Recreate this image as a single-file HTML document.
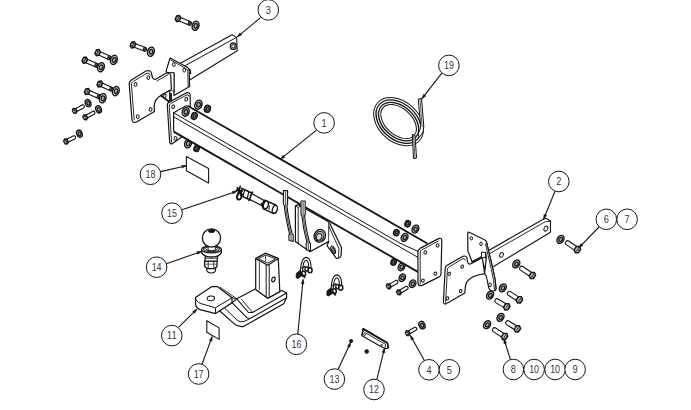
<!DOCTYPE html>
<html><head><meta charset="utf-8"><title>Towbar exploded view</title>
<style>
html,body{margin:0;padding:0;background:#fff}
svg{display:block}
.t{font-family:"Liberation Sans",sans-serif;font-size:10.2px;fill:#2f3550}
</style></head><body>
<svg width="691" height="410" viewBox="0 0 691 410">
<rect width="691" height="410" fill="#fff"/>
<polygon points="180,63.4 232,34.7 236.6,37.4 237.2,50.8 186,82.3" fill="#fff" stroke="#141414" stroke-width="1.1" stroke-linejoin="round"/>
<line x1="184.5" y1="66" x2="236.5" y2="37.4" stroke="#141414" stroke-width="1"/>
<ellipse cx="233.2" cy="46.2" rx="2.9" ry="3.3" fill="#bbb" stroke="#141414" stroke-width="1.2"/>
<ellipse cx="233.2" cy="46.2" rx="1.5" ry="1.8" fill="#eee" stroke="#141414" stroke-width="0.8"/>
<path d="M129.2,84 Q129.2,82 131,80.2 L146,71 Q150.8,69.6 151.6,73.6 L152,76 Q153,80.6 156.5,78.8 L167.2,72.6 L171,72.6 L171.5,89.6 L160.8,95.4 Q154.5,99 154.2,106 L154.4,111.5 L136.5,122 Q132.5,123.5 132,120 Z" fill="#fff" stroke="#141414" stroke-width="1.2" stroke-linejoin="round" stroke-linecap="round"/>
<path d="M131.4,84.5 L134.2,119.6 M131.4,84.5 Q131.4,82.6 133,81.6 L147,73.2 Q149.8,72.6 150.2,75" fill="none" stroke="#141414" stroke-width="0.9" stroke-linejoin="round" stroke-linecap="round"/>
<ellipse cx="135.6" cy="84.4" rx="1.4" ry="1.8" fill="#fff" stroke="#141414" stroke-width="1" transform="rotate(15 135.6 84.4)"/>
<ellipse cx="148.4" cy="77.6" rx="1.4" ry="1.8" fill="#fff" stroke="#141414" stroke-width="1" transform="rotate(15 148.4 77.6)"/>
<ellipse cx="137.8" cy="116.6" rx="1.4" ry="1.8" fill="#fff" stroke="#141414" stroke-width="1" transform="rotate(15 137.8 116.6)"/>
<ellipse cx="150.6" cy="109.4" rx="1.4" ry="1.8" fill="#fff" stroke="#141414" stroke-width="1" transform="rotate(15 150.6 109.4)"/>
<polygon points="160.8,95.5 169.8,90.6 169.8,102.2" fill="#fff" stroke="#141414" stroke-width="1.1" stroke-linejoin="round"/>
<line x1="160.8" y1="95.5" x2="169.8" y2="102.2" stroke="#141414" stroke-width="1.6"/>
<ellipse cx="164.9" cy="95.8" rx="1.3" ry="1.6" fill="#fff" stroke="#141414" stroke-width="1" transform="rotate(10 164.9 95.8)"/>
<polygon points="169.6,93.6 171.6,93.6 171.6,102.4 169.6,102.4" fill="#333" stroke="#141414" stroke-width="1" stroke-linejoin="round"/>
<path d="M170.1,57.9 L187.6,67.6 Q189.2,68.6 189.2,70.5 L189.6,86.4 L174,95.4 L174,72.8 L167.2,72.6 L166,71.4 Z" fill="#fff" stroke="#141414" stroke-width="1.2" stroke-linejoin="round" stroke-linecap="round"/>
<path d="M170.8,60 L186.6,69 Q187.8,69.8 187.8,71.4 L188.2,86.6" fill="none" stroke="#141414" stroke-width="0.9" stroke-linejoin="round" stroke-linecap="round"/>
<polygon points="167.2,72.6 174,72.8 174,92.4 171.4,89.6 170.8,74.4" fill="#fff" stroke="#141414" stroke-width="1" stroke-linejoin="round"/>
<line x1="156.6" y1="81.2" x2="168.6" y2="74.2" stroke="#141414" stroke-width="0.9"/>
<ellipse cx="173.8" cy="64.6" rx="1.4" ry="1.9" fill="#fff" stroke="#141414" stroke-width="1"/>
<ellipse cx="184.2" cy="70.2" rx="1.4" ry="1.9" fill="#fff" stroke="#141414" stroke-width="1"/>
<line x1="189.2" y1="69" x2="190.6" y2="71" stroke="#141414" stroke-width="1.5"/>
<line x1="190.6" y1="71" x2="190.6" y2="74" stroke="#141414" stroke-width="1.2"/>
<ellipse cx="198.4" cy="104.7" rx="3.5" ry="4.6" fill="#d0d0d0" stroke="#141414" stroke-width="1.4" transform="rotate(22 198.4 104.7)"/>
<ellipse cx="198.6" cy="104.8" rx="1.82" ry="2.39" fill="#a8a8a8" stroke="#141414" stroke-width="1.2" transform="rotate(22 198.6 104.8)"/>
<ellipse cx="207.4" cy="108.8" rx="2.89" ry="3.4" fill="#777" stroke="#141414" stroke-width="1.6" transform="rotate(18 207.4 108.8)"/>
<ellipse cx="207.4" cy="108.8" rx="1.02" ry="1.36" fill="#bbb" stroke="#141414" stroke-width="1" transform="rotate(18 207.4 108.8)"/>
<ellipse cx="188" cy="143.6" rx="3.3" ry="4.4" fill="#d0d0d0" stroke="#141414" stroke-width="1.4" transform="rotate(20 188 143.6)"/>
<ellipse cx="188.2" cy="143.7" rx="1.72" ry="2.29" fill="#a8a8a8" stroke="#141414" stroke-width="1.2" transform="rotate(20 188.2 143.7)"/>
<ellipse cx="196.6" cy="148.5" rx="2.55" ry="3" fill="#777" stroke="#141414" stroke-width="1.6" transform="rotate(18 196.6 148.5)"/>
<ellipse cx="196.6" cy="148.5" rx="0.9" ry="1.2" fill="#bbb" stroke="#141414" stroke-width="1" transform="rotate(18 196.6 148.5)"/>
<path d="M167.3,105 Q167.3,103.2 168.8,102.4 L186.6,92.8 Q189.8,92 190.2,95 L190.4,131 L172.4,143.6 Q170,144.4 169.7,142.2 Z" fill="#fff" stroke="#141414" stroke-width="1.2" stroke-linejoin="round" stroke-linecap="round"/>
<path d="M169.3,105.6 Q169.3,104.3 170.4,103.7 L187,94.8 Q188.6,94.4 188.8,96" fill="none" stroke="#141414" stroke-width="0.9" stroke-linejoin="round" stroke-linecap="round"/>
<line x1="169.3" y1="105.6" x2="171.6" y2="142.6" stroke="#141414" stroke-width="0.9"/>
<ellipse cx="173.2" cy="106.8" rx="1.4" ry="1.8" fill="#fff" stroke="#141414" stroke-width="1" transform="rotate(15 173.2 106.8)"/>
<ellipse cx="186.2" cy="99.2" rx="1.4" ry="1.8" fill="#fff" stroke="#141414" stroke-width="1" transform="rotate(15 186.2 99.2)"/>
<ellipse cx="175.5" cy="138.4" rx="1.4" ry="1.8" fill="#fff" stroke="#141414" stroke-width="1" transform="rotate(15 175.5 138.4)"/>
<ellipse cx="393.6" cy="262.2" rx="2.55" ry="3" fill="#777" stroke="#141414" stroke-width="1.6" transform="rotate(18 393.6 262.2)"/>
<ellipse cx="393.6" cy="262.2" rx="0.9" ry="1.2" fill="#bbb" stroke="#141414" stroke-width="1" transform="rotate(18 393.6 262.2)"/>
<ellipse cx="401.5" cy="266.8" rx="3.1" ry="4.2" fill="#d0d0d0" stroke="#141414" stroke-width="1.4" transform="rotate(30 401.5 266.8)"/>
<ellipse cx="401.7" cy="266.9" rx="1.61" ry="2.18" fill="#a8a8a8" stroke="#141414" stroke-width="1.2" transform="rotate(30 401.7 266.9)"/>
<polygon points="173.6,112.8 186,106 188,106 427.4,243.5 419.4,252 418.3,272.1 173.6,131.6" fill="#fff" stroke="#fff" stroke-width="0.01" stroke-linejoin="round"/>
<line x1="173.6" y1="112.8" x2="173.6" y2="131.6" stroke="#141414" stroke-width="1.2"/>
<path d="M173.6,112.8 L184.8,106.4 Q186.6,105.4 188.4,106.2" fill="none" stroke="#141414" stroke-width="1.1" stroke-linejoin="round" stroke-linecap="round"/>
<line x1="188" y1="106" x2="427.4" y2="243.5" stroke="#141414" stroke-width="1.8"/>
<path d="M173.6,112.8 L400,243.2 L419.4,252" fill="none" stroke="#141414" stroke-width="1" stroke-linejoin="round" stroke-linecap="round"/>
<line x1="173.6" y1="116.8" x2="419.4" y2="258.2" stroke="#141414" stroke-width="1"/>
<line x1="173.6" y1="131.6" x2="418.3" y2="272.1" stroke="#141414" stroke-width="1.8"/>
<ellipse cx="185.7" cy="111.9" rx="3.4" ry="4.4" fill="#d0d0d0" stroke="#141414" stroke-width="1.4" transform="rotate(22 185.7 111.9)"/>
<ellipse cx="185.9" cy="112" rx="1.77" ry="2.29" fill="#a8a8a8" stroke="#141414" stroke-width="1.2" transform="rotate(22 185.9 112)"/>
<ellipse cx="194.3" cy="116" rx="2.8" ry="3.3" fill="#777" stroke="#141414" stroke-width="1.6" transform="rotate(18 194.3 116)"/>
<ellipse cx="194.3" cy="116" rx="0.99" ry="1.32" fill="#bbb" stroke="#141414" stroke-width="1" transform="rotate(18 194.3 116)"/>
<path d="M177.29,20.21 L189.48,25.27 Q190.82,25.42 191.39,24.05 Q191.96,22.69 190.9,21.85 L178.71,16.79 Z" fill="#fff" stroke="#141414" stroke-width="1.1" stroke-linejoin="round" stroke-linecap="round"/>
<polygon points="187.64,24.5 189.48,25.27 190.9,21.85 189.05,21.08" fill="#555" stroke="#141414" stroke-width="1" stroke-linejoin="round"/>
<polygon points="175.25,19.38 176.7,21.64 179.32,21.07 180.75,17.62 179.3,15.36 176.68,15.93" fill="#999" stroke="#141414" stroke-width="1.5" stroke-linejoin="round"/>
<line x1="176.96" y1="21.01" x2="179.04" y2="15.99" stroke="#333" stroke-width="0.8"/>
<ellipse cx="177.17" cy="18.16" rx="1.1" ry="1.1" fill="#eee" stroke="#141414" stroke-width="0.7"/>
<ellipse cx="195.6" cy="25.8" rx="3.3" ry="4.7" fill="#d0d0d0" stroke="#141414" stroke-width="1.4" transform="rotate(18 195.6 25.8)"/>
<ellipse cx="195.8" cy="25.9" rx="1.72" ry="2.44" fill="#a8a8a8" stroke="#141414" stroke-width="1.2" transform="rotate(18 195.8 25.9)"/>
<path d="M132.33,46.53 L144.65,51.27 Q145.99,51.39 146.52,50.01 Q147.06,48.63 145.98,47.82 L133.67,43.07 Z" fill="#fff" stroke="#141414" stroke-width="1.1" stroke-linejoin="round" stroke-linecap="round"/>
<polygon points="142.79,50.55 144.65,51.27 145.98,47.82 144.12,47.1" fill="#555" stroke="#141414" stroke-width="1" stroke-linejoin="round"/>
<polygon points="130.27,45.75 131.78,47.97 134.38,47.34 135.73,43.85 134.22,41.63 131.62,42.26" fill="#999" stroke="#141414" stroke-width="1.5" stroke-linejoin="round"/>
<line x1="132.02" y1="47.34" x2="133.98" y2="42.26" stroke="#333" stroke-width="0.8"/>
<ellipse cx="132.16" cy="44.48" rx="1.1" ry="1.1" fill="#eee" stroke="#141414" stroke-width="0.7"/>
<ellipse cx="150.9" cy="51.7" rx="3.3" ry="4.7" fill="#d0d0d0" stroke="#141414" stroke-width="1.4" transform="rotate(18 150.9 51.7)"/>
<ellipse cx="151.1" cy="51.8" rx="1.72" ry="2.44" fill="#a8a8a8" stroke="#141414" stroke-width="1.2" transform="rotate(18 151.1 51.8)"/>
<path d="M96.94,54.29 L108.97,59.71 Q110.31,59.9 110.92,58.56 Q111.52,57.21 110.49,56.34 L98.46,50.91 Z" fill="#fff" stroke="#141414" stroke-width="1.1" stroke-linejoin="round" stroke-linecap="round"/>
<polygon points="107.15,58.89 108.97,59.71 110.49,56.34 108.67,55.51" fill="#555" stroke="#141414" stroke-width="1" stroke-linejoin="round"/>
<polygon points="94.93,53.4 96.3,55.7 98.94,55.21 100.47,51.8 99.1,49.5 96.46,49.99" fill="#999" stroke="#141414" stroke-width="1.5" stroke-linejoin="round"/>
<line x1="96.58" y1="55.08" x2="98.82" y2="50.12" stroke="#333" stroke-width="0.8"/>
<ellipse cx="96.88" cy="52.23" rx="1.1" ry="1.1" fill="#eee" stroke="#141414" stroke-width="0.7"/>
<ellipse cx="113.9" cy="59.9" rx="3.3" ry="4.7" fill="#d0d0d0" stroke="#141414" stroke-width="1.4" transform="rotate(18 113.9 59.9)"/>
<ellipse cx="114.1" cy="60" rx="1.72" ry="2.44" fill="#a8a8a8" stroke="#141414" stroke-width="1.2" transform="rotate(18 114.1 60)"/>
<path d="M84.06,61.9 L96.17,67.16 Q97.5,67.34 98.09,65.98 Q98.68,64.62 97.64,63.77 L85.54,58.5 Z" fill="#fff" stroke="#141414" stroke-width="1.1" stroke-linejoin="round" stroke-linecap="round"/>
<polygon points="94.33,66.36 96.17,67.16 97.64,63.77 95.81,62.97" fill="#555" stroke="#141414" stroke-width="1" stroke-linejoin="round"/>
<polygon points="82.04,61.04 83.44,63.32 86.07,62.79 87.56,59.36 86.16,57.08 83.53,57.61" fill="#999" stroke="#141414" stroke-width="1.5" stroke-linejoin="round"/>
<line x1="83.72" y1="62.69" x2="85.88" y2="57.71" stroke="#333" stroke-width="0.8"/>
<ellipse cx="83.97" cy="59.84" rx="1.1" ry="1.1" fill="#eee" stroke="#141414" stroke-width="0.7"/>
<ellipse cx="100.9" cy="67.2" rx="3.3" ry="4.7" fill="#d0d0d0" stroke="#141414" stroke-width="1.4" transform="rotate(18 100.9 67.2)"/>
<ellipse cx="101.1" cy="67.3" rx="1.72" ry="2.44" fill="#a8a8a8" stroke="#141414" stroke-width="1.2" transform="rotate(18 101.1 67.3)"/>
<path d="M99.05,85.69 L111.12,91.05 Q112.45,91.23 113.05,89.88 Q113.65,88.53 112.62,87.66 L100.55,82.31 Z" fill="#fff" stroke="#141414" stroke-width="1.1" stroke-linejoin="round" stroke-linecap="round"/>
<polygon points="109.29,90.23 111.12,91.05 112.62,87.66 110.79,86.85" fill="#555" stroke="#141414" stroke-width="1" stroke-linejoin="round"/>
<polygon points="97.03,84.82 98.42,87.11 101.05,86.6 102.57,83.18 101.18,80.89 98.55,81.4" fill="#999" stroke="#141414" stroke-width="1.5" stroke-linejoin="round"/>
<line x1="98.7" y1="86.49" x2="100.9" y2="81.51" stroke="#333" stroke-width="0.8"/>
<ellipse cx="98.98" cy="83.63" rx="1.1" ry="1.1" fill="#eee" stroke="#141414" stroke-width="0.7"/>
<ellipse cx="115.8" cy="91.1" rx="3.3" ry="4.7" fill="#d0d0d0" stroke="#141414" stroke-width="1.4" transform="rotate(18 115.8 91.1)"/>
<ellipse cx="116" cy="91.2" rx="1.72" ry="2.44" fill="#a8a8a8" stroke="#141414" stroke-width="1.2" transform="rotate(18 116 91.2)"/>
<path d="M86.37,93.2 L98.48,98.44 Q99.82,98.61 100.41,97.25 Q100.99,95.89 99.95,95.04 L87.83,89.8 Z" fill="#fff" stroke="#141414" stroke-width="1.1" stroke-linejoin="round" stroke-linecap="round"/>
<polygon points="96.65,97.64 98.48,98.44 99.95,95.04 98.11,94.25" fill="#555" stroke="#141414" stroke-width="1" stroke-linejoin="round"/>
<polygon points="84.34,92.34 85.75,94.62 88.38,94.09 89.86,90.66 88.45,88.38 85.82,88.91" fill="#999" stroke="#141414" stroke-width="1.5" stroke-linejoin="round"/>
<line x1="86.02" y1="94" x2="88.18" y2="89" stroke="#333" stroke-width="0.8"/>
<ellipse cx="86.27" cy="91.14" rx="1.1" ry="1.1" fill="#eee" stroke="#141414" stroke-width="0.7"/>
<ellipse cx="102.6" cy="98.2" rx="3.3" ry="4.7" fill="#d0d0d0" stroke="#141414" stroke-width="1.4" transform="rotate(18 102.6 98.2)"/>
<ellipse cx="102.8" cy="98.3" rx="1.72" ry="2.44" fill="#a8a8a8" stroke="#141414" stroke-width="1.2" transform="rotate(18 102.8 98.3)"/>
<path d="M75.45,112.21 L83.99,107.68 Q84.83,106.87 84.23,105.74 Q83.63,104.61 82.49,104.85 L73.95,109.39 Z" fill="#fff" stroke="#141414" stroke-width="1.1" stroke-linejoin="round" stroke-linecap="round"/>
<polygon points="73.81,112.96 75.97,113.18 76.99,111.27 75.59,108.64 73.43,108.42 72.41,110.33" fill="#999" stroke="#141414" stroke-width="1.5" stroke-linejoin="round"/>
<line x1="75.71" y1="112.71" x2="73.69" y2="108.89" stroke="#333" stroke-width="0.8"/>
<ellipse cx="73.91" cy="111.22" rx="1.1" ry="1.1" fill="#eee" stroke="#141414" stroke-width="0.7"/>
<ellipse cx="88.1" cy="103.2" rx="2.7" ry="3.7" fill="#d0d0d0" stroke="#141414" stroke-width="1.4" transform="rotate(-20 88.1 103.2)"/>
<ellipse cx="88.3" cy="103.3" rx="1.4" ry="1.92" fill="#a8a8a8" stroke="#141414" stroke-width="1.2" transform="rotate(-20 88.3 103.3)"/>
<path d="M85.97,118.7 L94.52,113.98 Q95.35,113.16 94.73,112.04 Q94.11,110.92 92.98,111.18 L84.43,115.9 Z" fill="#fff" stroke="#141414" stroke-width="1.1" stroke-linejoin="round" stroke-linecap="round"/>
<polygon points="84.34,119.47 86.5,119.66 87.49,117.73 86.06,115.13 83.9,114.94 82.91,116.87" fill="#999" stroke="#141414" stroke-width="1.5" stroke-linejoin="round"/>
<line x1="86.24" y1="119.19" x2="84.16" y2="115.41" stroke="#333" stroke-width="0.8"/>
<ellipse cx="84.41" cy="117.73" rx="1.1" ry="1.1" fill="#eee" stroke="#141414" stroke-width="0.7"/>
<ellipse cx="98.6" cy="109.3" rx="2.7" ry="3.7" fill="#d0d0d0" stroke="#141414" stroke-width="1.4" transform="rotate(-20 98.6 109.3)"/>
<ellipse cx="98.8" cy="109.4" rx="1.4" ry="1.92" fill="#a8a8a8" stroke="#141414" stroke-width="1.2" transform="rotate(-20 98.8 109.4)"/>
<path d="M66.72,142.93 L75.15,138.67 Q76.01,137.88 75.43,136.74 Q74.85,135.59 73.71,135.81 L65.28,140.07 Z" fill="#fff" stroke="#141414" stroke-width="1.1" stroke-linejoin="round" stroke-linecap="round"/>
<polygon points="65.06,143.64 67.22,143.91 68.28,142.01 66.94,139.36 64.78,139.09 63.72,140.99" fill="#999" stroke="#141414" stroke-width="1.5" stroke-linejoin="round"/>
<line x1="66.97" y1="143.43" x2="65.03" y2="139.57" stroke="#333" stroke-width="0.8"/>
<ellipse cx="65.2" cy="141.91" rx="1.1" ry="1.1" fill="#eee" stroke="#141414" stroke-width="0.7"/>
<ellipse cx="79.4" cy="133.6" rx="2.7" ry="3.7" fill="#d0d0d0" stroke="#141414" stroke-width="1.4" transform="rotate(-20 79.4 133.6)"/>
<ellipse cx="79.6" cy="133.7" rx="1.4" ry="1.92" fill="#a8a8a8" stroke="#141414" stroke-width="1.2" transform="rotate(-20 79.6 133.7)"/>
<path d="M283.4,190.6 L287.6,190.6 L287.6,204.6 L286.9,205.1 Q288.2,218.6 292.3,234.3 L293.2,234.8 L293.2,241.4 L289,240.2 L288.8,234.8 L289.7,234.3 Q285.6,218.6 284.2,205.1 L283.4,204.6 Z" fill="#fff" stroke="#141414" stroke-width="1.1" stroke-linejoin="round" stroke-linecap="round"/>
<path d="M285.5,191.6 L285.5,204.6 Q286.8,218.6 291,234.8 L291.1,240.8" fill="none" stroke="#666" stroke-width="1.3" stroke-linejoin="round" stroke-linecap="round"/>
<polygon points="295.4,206 298,204.6 300.6,206 328.9,221.9 328.9,241.4 310,251.7 295.4,241.4" fill="#fff" stroke="#141414" stroke-width="1.2" stroke-linejoin="round"/>
<line x1="298.2" y1="207.4" x2="298.2" y2="243.4" stroke="#141414" stroke-width="0.9"/>
<line x1="295.4" y1="206" x2="298.2" y2="207.4" stroke="#141414" stroke-width="0.9"/>
<line x1="298.2" y1="207.4" x2="300.6" y2="206" stroke="#141414" stroke-width="0.9"/>
<ellipse cx="319.8" cy="235.8" rx="5.6" ry="6.5" fill="#fff" stroke="#141414" stroke-width="1.3" transform="rotate(22 319.8 235.8)"/>
<ellipse cx="319.6" cy="236.2" rx="4.2" ry="5" fill="#bbb" stroke="#141414" stroke-width="1.0" transform="rotate(22 319.6 236.2)"/>
<ellipse cx="319.2" cy="236.8" rx="2.6" ry="3.3" fill="#ddd" stroke="#141414" stroke-width="0.9" transform="rotate(22 319.2 236.8)"/>
<path d="M301,201 L305.2,201 L305.2,215 L304.5,215.5 Q305.8,229 309.6,242.8 L310.5,243.3 L310.5,250.9 L306.3,249.7 L306.1,243.3 L307,242.8 Q303.2,229 301.8,215.5 L301,215 Z" fill="#fff" stroke="#141414" stroke-width="1.1" stroke-linejoin="round" stroke-linecap="round"/>
<path d="M303.1,202 L303.1,215 Q304.4,229 308.3,243.3 L308.4,250.3" fill="none" stroke="#666" stroke-width="1.3" stroke-linejoin="round" stroke-linecap="round"/>
<path d="M329.8,223.5 L341,246.6 Q341.6,247.8 341.4,249.5 L341.2,255 Q340.4,258.8 336.4,258.3 L327,245.6 L328.9,241.4" fill="#fff" stroke="#141414" stroke-width="1.2" stroke-linejoin="round" stroke-linecap="round"/>
<path d="M329,226.6 L338.8,248.4 L338.6,257.6" fill="none" stroke="#141414" stroke-width="0.9" stroke-linejoin="round" stroke-linecap="round"/>
<ellipse cx="333.2" cy="249.8" rx="1.8" ry="4" fill="#fff" stroke="#141414" stroke-width="1.1" transform="rotate(-24 333.2 249.8)"/>
<ellipse cx="333.4" cy="250" rx="0.8" ry="2.8" fill="#ccc" stroke="#141414" stroke-width="0.8" transform="rotate(-24 333.4 250)"/>
<ellipse cx="407.7" cy="223.7" rx="2.63" ry="3.1" fill="#777" stroke="#141414" stroke-width="1.6" transform="rotate(18 407.7 223.7)"/>
<ellipse cx="407.7" cy="223.7" rx="0.93" ry="1.24" fill="#bbb" stroke="#141414" stroke-width="1" transform="rotate(18 407.7 223.7)"/>
<ellipse cx="415.4" cy="229.1" rx="3.1" ry="4.2" fill="#d0d0d0" stroke="#141414" stroke-width="1.4" transform="rotate(30 415.4 229.1)"/>
<ellipse cx="415.6" cy="229.2" rx="1.61" ry="2.18" fill="#a8a8a8" stroke="#141414" stroke-width="1.2" transform="rotate(30 415.6 229.2)"/>
<ellipse cx="396.3" cy="232.6" rx="2.63" ry="3.1" fill="#777" stroke="#141414" stroke-width="1.6" transform="rotate(18 396.3 232.6)"/>
<ellipse cx="396.3" cy="232.6" rx="0.93" ry="1.24" fill="#bbb" stroke="#141414" stroke-width="1" transform="rotate(18 396.3 232.6)"/>
<ellipse cx="404.6" cy="237.4" rx="3.1" ry="4.2" fill="#d0d0d0" stroke="#141414" stroke-width="1.4" transform="rotate(30 404.6 237.4)"/>
<ellipse cx="404.8" cy="237.5" rx="1.61" ry="2.18" fill="#a8a8a8" stroke="#141414" stroke-width="1.2" transform="rotate(30 404.8 237.5)"/>
<path d="M417.9,252 Q417.9,249.6 420,248.4 L438.5,238.6 Q441.6,237.6 441.8,240.5 L441,274 Q441,275.8 439.6,276.6 L421.5,285.6 Q418.2,286.2 418,283.5 Z" fill="#fff" stroke="#141414" stroke-width="1.2" stroke-linejoin="round" stroke-linecap="round"/>
<path d="M420.2,252.6 Q420.2,250.8 421.6,250 L438.4,241" fill="none" stroke="#141414" stroke-width="0.9" stroke-linejoin="round" stroke-linecap="round"/>
<line x1="420.2" y1="252.6" x2="420.2" y2="284.5" stroke="#141414" stroke-width="0.9"/>
<ellipse cx="425.3" cy="252.4" rx="1.4" ry="1.7" fill="#fff" stroke="#141414" stroke-width="1" transform="rotate(15 425.3 252.4)"/>
<ellipse cx="437.6" cy="245.4" rx="1.4" ry="1.7" fill="#fff" stroke="#141414" stroke-width="1" transform="rotate(15 437.6 245.4)"/>
<ellipse cx="435.4" cy="273.6" rx="1.4" ry="1.7" fill="#fff" stroke="#141414" stroke-width="1" transform="rotate(15 435.4 273.6)"/>
<ellipse cx="422.9" cy="280.6" rx="1.4" ry="1.7" fill="#fff" stroke="#141414" stroke-width="1" transform="rotate(15 422.9 280.6)"/>
<ellipse cx="402.3" cy="277.7" rx="3" ry="4" fill="#d0d0d0" stroke="#141414" stroke-width="1.4" transform="rotate(30 402.3 277.7)"/>
<ellipse cx="402.5" cy="277.8" rx="1.56" ry="2.08" fill="#a8a8a8" stroke="#141414" stroke-width="1.2" transform="rotate(30 402.5 277.8)"/>
<ellipse cx="412.6" cy="283.7" rx="3" ry="4" fill="#d0d0d0" stroke="#141414" stroke-width="1.4" transform="rotate(30 412.6 283.7)"/>
<ellipse cx="412.8" cy="283.8" rx="1.56" ry="2.08" fill="#a8a8a8" stroke="#141414" stroke-width="1.2" transform="rotate(30 412.8 283.8)"/>
<path d="M389.48,287.7 L397.54,283.18 Q398.36,282.36 397.73,281.24 Q397.1,280.12 395.97,280.39 L387.92,284.9 Z" fill="#fff" stroke="#141414" stroke-width="1.1" stroke-linejoin="round" stroke-linecap="round"/>
<polygon points="387.86,288.48 390.02,288.66 391,286.72 389.54,284.12 387.38,283.94 386.4,285.88" fill="#999" stroke="#141414" stroke-width="1.5" stroke-linejoin="round"/>
<line x1="389.76" y1="288.18" x2="387.64" y2="284.42" stroke="#333" stroke-width="0.8"/>
<ellipse cx="387.91" cy="286.74" rx="1.1" ry="1.1" fill="#eee" stroke="#141414" stroke-width="0.7"/>
<path d="M399.71,293.78 L407.77,289.09 Q408.58,288.25 407.93,287.14 Q407.29,286.03 406.16,286.32 L398.09,291.02 Z" fill="#fff" stroke="#141414" stroke-width="1.1" stroke-linejoin="round" stroke-linecap="round"/>
<polygon points="398.09,294.59 400.26,294.73 401.2,292.78 399.71,290.21 397.54,290.07 396.6,292.02" fill="#999" stroke="#141414" stroke-width="1.5" stroke-linejoin="round"/>
<line x1="399.99" y1="294.27" x2="397.81" y2="290.53" stroke="#333" stroke-width="0.8"/>
<ellipse cx="398.12" cy="292.85" rx="1.1" ry="1.1" fill="#eee" stroke="#141414" stroke-width="0.7"/>
<path d="M480,255.4 L542.8,219.5 Q545.6,217.8 547.4,219 L550.5,221.2 L550.5,232.3 L486,271 Z" fill="#fff" stroke="#141414" stroke-width="1.1" stroke-linejoin="round" stroke-linecap="round"/>
<path d="M482,258 L544.5,222.1 Q546.4,221.2 548,221.6 L550.5,221.2" fill="none" stroke="#141414" stroke-width="0.9" stroke-linejoin="round" stroke-linecap="round"/>
<ellipse cx="545.9" cy="228.6" rx="1.8" ry="2.6" fill="#fff" stroke="#141414" stroke-width="1" transform="rotate(25 545.9 228.6)"/>
<ellipse cx="501.5" cy="254.9" rx="1.7" ry="2.4" fill="#fff" stroke="#141414" stroke-width="1" transform="rotate(25 501.5 254.9)"/>
<path d="M467.8,232.8 Q467.8,231.6 469,232.2 L484,239.5 Q486.4,240.6 486.8,243 C488.6,252 492,264 495.1,279.7 L496,288.6 L490,280 L485.7,256.6 L481.5,257.6 L472.1,262 L467.8,250.6 Z" fill="#fff" stroke="#141414" stroke-width="1.2" stroke-linejoin="round" stroke-linecap="round"/>
<ellipse cx="471.3" cy="238.3" rx="1.3" ry="1.7" fill="#fff" stroke="#141414" stroke-width="1"/>
<ellipse cx="481" cy="243.8" rx="1.3" ry="1.7" fill="#fff" stroke="#141414" stroke-width="1"/>
<path d="M445.2,268.4 Q445.2,266.6 446.8,265.6 L462.6,256.4 Q466.6,255 467,258.4 L467.4,261 Q468,265.4 471.4,263.4 L482.3,257.6 L484.6,273.6 Q466,276.6 465.4,286.6 L464.8,293 L446.6,303.6 Q443.6,304.6 443.4,302 Z" fill="#fff" stroke="#141414" stroke-width="1.2" stroke-linejoin="round" stroke-linecap="round"/>
<path d="M447.4,269.4 Q447.4,268 448.6,267.2 L463,258.6 Q464.8,258.2 465.2,260" fill="none" stroke="#141414" stroke-width="0.9" stroke-linejoin="round" stroke-linecap="round"/>
<line x1="447.4" y1="269.4" x2="445.6" y2="302.8" stroke="#141414" stroke-width="0.9"/>
<line x1="472.1" y1="261.4" x2="482.3" y2="255.9" stroke="#141414" stroke-width="0.9"/>
<ellipse cx="449.2" cy="273.8" rx="1.3" ry="1.6" fill="#fff" stroke="#141414" stroke-width="1" transform="rotate(15 449.2 273.8)"/>
<ellipse cx="462.2" cy="266.6" rx="1.3" ry="1.6" fill="#fff" stroke="#141414" stroke-width="1" transform="rotate(15 462.2 266.6)"/>
<ellipse cx="447.4" cy="298.4" rx="1.3" ry="1.6" fill="#fff" stroke="#141414" stroke-width="1" transform="rotate(15 447.4 298.4)"/>
<ellipse cx="460.6" cy="291" rx="1.3" ry="1.6" fill="#fff" stroke="#141414" stroke-width="1" transform="rotate(15 460.6 291)"/>
<polygon points="481.5,252.3 485.7,252.3 485.7,257 481.5,258" fill="#fff" stroke="#141414" stroke-width="1" stroke-linejoin="round"/>
<path d="M485.7,252.3 L486.3,257.5 L484.6,273.4 Q486.8,276 487.4,281 L488.4,286.6 Q489.2,290.4 492,290.9 L493.8,291 Q496.2,290.6 496,288.6 L495.1,279.7 C492,264 488.6,252 486.8,243" fill="#fff" stroke="#141414" stroke-width="1.2" stroke-linejoin="round" stroke-linecap="round"/>
<path d="M485.6,244 C487.4,253 490.6,265 493.6,280.6 L494.4,289.6" fill="none" stroke="#141414" stroke-width="0.9" stroke-linejoin="round" stroke-linecap="round"/>
<ellipse cx="490" cy="284.8" rx="1.4" ry="1.8" fill="#fff" stroke="#141414" stroke-width="1"/>
<ellipse cx="516.3" cy="263.9" rx="3.1" ry="4.3" fill="#d0d0d0" stroke="#141414" stroke-width="1.4" transform="rotate(35 516.3 263.9)"/>
<ellipse cx="516.5" cy="264" rx="1.61" ry="2.24" fill="#a8a8a8" stroke="#141414" stroke-width="1.2" transform="rotate(35 516.5 264)"/>
<path d="M533.59,273.71 L522.39,266.27 Q520.9,265.8 519.95,267.23 Q518.99,268.66 520.01,269.85 L531.21,277.29 Z" fill="#fff" stroke="#141414" stroke-width="1.1" stroke-linejoin="round" stroke-linecap="round"/>
<polygon points="535.61,275.19 534.45,272.42 531.44,272.42 529.19,275.81 530.35,278.58 533.36,278.58" fill="#d4d4d4" stroke="#141414" stroke-width="1.5" stroke-linejoin="round"/>
<line x1="534.04" y1="273.03" x2="530.76" y2="277.97" stroke="#333" stroke-width="0.8"/>
<ellipse cx="533.15" cy="276" rx="1.1" ry="1.1" fill="#eee" stroke="#141414" stroke-width="0.7"/>
<ellipse cx="502.8" cy="287.8" rx="3.1" ry="4.3" fill="#d0d0d0" stroke="#141414" stroke-width="1.4" transform="rotate(35 502.8 287.8)"/>
<ellipse cx="503" cy="287.9" rx="1.61" ry="2.24" fill="#a8a8a8" stroke="#141414" stroke-width="1.2" transform="rotate(35 503 287.9)"/>
<path d="M520.57,298.1 L510.18,291.35 Q508.68,290.89 507.74,292.33 Q506.81,293.78 507.84,294.96 L518.23,301.7 Z" fill="#fff" stroke="#141414" stroke-width="1.1" stroke-linejoin="round" stroke-linecap="round"/>
<polygon points="522.6,299.55 521.41,296.8 518.41,296.83 516.2,300.25 517.39,303 520.39,302.97" fill="#d4d4d4" stroke="#141414" stroke-width="1.5" stroke-linejoin="round"/>
<line x1="521.01" y1="297.42" x2="517.79" y2="302.38" stroke="#333" stroke-width="0.8"/>
<ellipse cx="520.15" cy="300.39" rx="1.1" ry="1.1" fill="#eee" stroke="#141414" stroke-width="0.7"/>
<ellipse cx="490.1" cy="295.2" rx="3.1" ry="4.3" fill="#d0d0d0" stroke="#141414" stroke-width="1.4" transform="rotate(35 490.1 295.2)"/>
<ellipse cx="490.3" cy="295.3" rx="1.61" ry="2.24" fill="#a8a8a8" stroke="#141414" stroke-width="1.2" transform="rotate(35 490.3 295.3)"/>
<path d="M507.91,304.96 L497.54,298.68 Q496.03,298.27 495.14,299.74 Q494.25,301.21 495.31,302.36 L505.69,308.64 Z" fill="#fff" stroke="#141414" stroke-width="1.1" stroke-linejoin="round" stroke-linecap="round"/>
<polygon points="509.99,306.35 508.72,303.63 505.71,303.76 503.61,307.25 504.88,309.97 507.89,309.84" fill="#d4d4d4" stroke="#141414" stroke-width="1.5" stroke-linejoin="round"/>
<line x1="508.33" y1="304.27" x2="505.27" y2="309.33" stroke="#333" stroke-width="0.8"/>
<ellipse cx="507.57" cy="307.27" rx="1.1" ry="1.1" fill="#eee" stroke="#141414" stroke-width="0.7"/>
<ellipse cx="500.5" cy="317.3" rx="3.1" ry="4.3" fill="#d0d0d0" stroke="#141414" stroke-width="1.4" transform="rotate(35 500.5 317.3)"/>
<ellipse cx="500.7" cy="317.4" rx="1.61" ry="2.24" fill="#a8a8a8" stroke="#141414" stroke-width="1.2" transform="rotate(35 500.7 317.4)"/>
<path d="M518.55,327.08 L508.46,320.72 Q506.96,320.28 506.04,321.74 Q505.12,323.19 506.17,324.36 L516.25,330.72 Z" fill="#fff" stroke="#141414" stroke-width="1.1" stroke-linejoin="round" stroke-linecap="round"/>
<polygon points="520.6,328.51 519.37,325.77 516.37,325.85 514.2,329.29 515.43,332.03 518.43,331.95" fill="#d4d4d4" stroke="#141414" stroke-width="1.5" stroke-linejoin="round"/>
<line x1="518.98" y1="326.4" x2="515.82" y2="331.4" stroke="#333" stroke-width="0.8"/>
<ellipse cx="518.16" cy="329.38" rx="1.1" ry="1.1" fill="#eee" stroke="#141414" stroke-width="0.7"/>
<ellipse cx="487.1" cy="324.7" rx="3.1" ry="4.3" fill="#d0d0d0" stroke="#141414" stroke-width="1.4" transform="rotate(35 487.1 324.7)"/>
<ellipse cx="487.3" cy="324.8" rx="1.61" ry="2.24" fill="#a8a8a8" stroke="#141414" stroke-width="1.2" transform="rotate(35 487.3 324.8)"/>
<path d="M505.79,334.71 L495.29,327.77 Q493.79,327.3 492.85,328.73 Q491.9,330.17 492.92,331.36 L503.41,338.29 Z" fill="#fff" stroke="#141414" stroke-width="1.1" stroke-linejoin="round" stroke-linecap="round"/>
<polygon points="507.81,336.18 506.64,333.41 503.64,333.42 501.39,336.82 502.56,339.59 505.56,339.58" fill="#d4d4d4" stroke="#141414" stroke-width="1.5" stroke-linejoin="round"/>
<line x1="506.23" y1="334.03" x2="502.97" y2="338.97" stroke="#333" stroke-width="0.8"/>
<ellipse cx="505.35" cy="337" rx="1.1" ry="1.1" fill="#eee" stroke="#141414" stroke-width="0.7"/>
<ellipse cx="560.5" cy="239.3" rx="3.1" ry="4.3" fill="#d0d0d0" stroke="#141414" stroke-width="1.4" transform="rotate(35 560.5 239.3)"/>
<ellipse cx="560.7" cy="239.4" rx="1.61" ry="2.24" fill="#a8a8a8" stroke="#141414" stroke-width="1.2" transform="rotate(35 560.7 239.4)"/>
<path d="M578.61,247.82 L568.3,240.8 Q566.82,240.31 565.85,241.73 Q564.88,243.15 565.88,244.35 L576.19,251.38 Z" fill="#fff" stroke="#141414" stroke-width="1.1" stroke-linejoin="round" stroke-linecap="round"/>
<polygon points="580.61,249.33 579.48,246.54 576.48,246.51 574.19,249.87 575.32,252.66 578.32,252.69" fill="#d4d4d4" stroke="#141414" stroke-width="1.5" stroke-linejoin="round"/>
<line x1="579.07" y1="247.15" x2="575.73" y2="252.05" stroke="#333" stroke-width="0.8"/>
<ellipse cx="578.14" cy="250.11" rx="1.1" ry="1.1" fill="#eee" stroke="#141414" stroke-width="0.7"/>
<path d="M408.5,334.59 L416.35,330.08 Q417.17,329.25 416.53,328.14 Q415.89,327.03 414.76,327.31 L406.9,331.81 Z" fill="#fff" stroke="#141414" stroke-width="1.1" stroke-linejoin="round" stroke-linecap="round"/>
<polygon points="406.88,335.38 409.04,335.54 410,333.59 408.52,331.02 406.36,330.86 405.4,332.81" fill="#999" stroke="#141414" stroke-width="1.5" stroke-linejoin="round"/>
<line x1="408.77" y1="335.07" x2="406.63" y2="331.33" stroke="#333" stroke-width="0.8"/>
<ellipse cx="406.92" cy="333.65" rx="1.1" ry="1.1" fill="#eee" stroke="#141414" stroke-width="0.7"/>
<ellipse cx="422" cy="325.2" rx="2.9" ry="3.9" fill="#d0d0d0" stroke="#141414" stroke-width="1.4" transform="rotate(-25 422 325.2)"/>
<ellipse cx="422.2" cy="325.3" rx="1.51" ry="2.03" fill="#a8a8a8" stroke="#141414" stroke-width="1.2" transform="rotate(-25 422.2 325.3)"/>
<polygon points="362.8,328.7 387.5,343 388.2,348.2 384.9,348.6 380.4,346.3 362.1,335.8" fill="#fff" stroke="#141414" stroke-width="1.1" stroke-linejoin="round"/>
<line x1="362.8" y1="328.7" x2="387.5" y2="343" stroke="#141414" stroke-width="2.0"/>
<line x1="363" y1="328.8" x2="362.2" y2="335.6" stroke="#141414" stroke-width="1.6"/>
<line x1="387.5" y1="343" x2="388.2" y2="348.2" stroke="#141414" stroke-width="1.6"/>
<line x1="364.4" y1="332.3" x2="385.6" y2="344.4" stroke="#141414" stroke-width="0.9"/>
<line x1="385.6" y1="344.4" x2="385" y2="348.4" stroke="#141414" stroke-width="0.9"/>
<ellipse cx="364.6" cy="334.6" rx="1.1" ry="0.8" fill="#fff" stroke="#141414" stroke-width="0.8"/>
<ellipse cx="381.6" cy="345.2" rx="1.1" ry="0.8" fill="#fff" stroke="#141414" stroke-width="0.8"/>
<ellipse cx="351.1" cy="341" rx="1.5" ry="1.6" fill="#141414" stroke="#141414" stroke-width="1"/>
<ellipse cx="366.7" cy="351.5" rx="1.8" ry="1.8" fill="#141414" stroke="#141414" stroke-width="1"/>
<polygon points="186.4,156.5 208.6,168.5 208.6,182.9 186.4,170.8" fill="#fff" stroke="#141414" stroke-width="1.1" stroke-linejoin="round"/>
<polygon points="206.8,320.7 219.1,327.9 219.1,339.4 206.8,332.2" fill="#fff" stroke="#141414" stroke-width="1.1" stroke-linejoin="round"/>
<path d="M219.3,310.5 L234,323.6 Q238,327.4 243.5,326.4 L283.7,303.7 L286.6,297.8 L286.6,293 L236.8,298.8 L232,302.7 Z" fill="#fff" stroke="#141414" stroke-width="1.2" stroke-linejoin="round" stroke-linecap="round"/>
<path d="M225.1,308.5 L237.4,320.4 Q240.4,322.8 244.4,321.4 L250,318.6" fill="none" stroke="#141414" stroke-width="1" stroke-linejoin="round" stroke-linecap="round"/>
<path d="M232,302.7 L246.6,317.3 Q248.4,318.8 251,318 L286.6,297.8" fill="none" stroke="#141414" stroke-width="1.1" stroke-linejoin="round" stroke-linecap="round"/>
<polygon points="236.8,298.8 255.4,289 267.8,298.2 281.7,290.4 286.6,293 252.5,312.5 248.5,312.5" fill="#fff" stroke="#141414" stroke-width="1.1" stroke-linejoin="round"/>
<line x1="241.6" y1="299.4" x2="252.5" y2="312.5" stroke="#141414" stroke-width="0.9"/>
<path d="M195.5,297.4 L211.5,286.7 L217.3,286.5 L232,297.8 L232,302.7 L215.6,313.6 L200,309.6 Q195.5,307.6 195.5,303.4 Z" fill="#fff" stroke="#141414" stroke-width="1.2" stroke-linejoin="round" stroke-linecap="round"/>
<path d="M195.5,297.8 Q196,302 201,303.6 L215.4,307.8 L232,297.8" fill="none" stroke="#141414" stroke-width="1" stroke-linejoin="round" stroke-linecap="round"/>
<line x1="215.4" y1="307.8" x2="215.6" y2="313.4" stroke="#141414" stroke-width="1"/>
<line x1="220" y1="287.2" x2="236.8" y2="298.8" stroke="#141414" stroke-width="0.9"/>
<line x1="232" y1="297.8" x2="236.8" y2="298.8" stroke="#141414" stroke-width="0.9"/>
<ellipse cx="210.9" cy="298.4" rx="3.7" ry="2.3" fill="#fff" stroke="#141414" stroke-width="1" transform="rotate(-5 210.9 298.4)"/>
<polygon points="255.7,258.6 265.6,253.2 278.3,258.6 279.8,291.6 267.8,298.2 255.7,289.4" fill="#fff" stroke="#141414" stroke-width="1.2" stroke-linejoin="round"/>
<polygon points="255.7,258.6 265.6,253.2 278.3,258.6 267.8,265.2" fill="#fff" stroke="#141414" stroke-width="1.2" stroke-linejoin="round"/>
<polygon points="258.4,258.8 265.6,255 275.4,258.8 267.8,263.2" fill="#fff" stroke="#141414" stroke-width="0.9" stroke-linejoin="round"/>
<line x1="266.2" y1="264.6" x2="266.2" y2="297.2" stroke="#141414" stroke-width="1.0"/>
<line x1="269.2" y1="264.6" x2="269.2" y2="297.4" stroke="#141414" stroke-width="1.0"/>
<line x1="265.6" y1="255.4" x2="265.6" y2="261.8" stroke="#141414" stroke-width="0.8"/>
<line x1="259.4" y1="261.4" x2="259.4" y2="290.4" stroke="#141414" stroke-width="0.8"/>
<ellipse cx="273.4" cy="279.4" rx="1.6" ry="2.4" fill="#fff" stroke="#141414" stroke-width="1.2" transform="rotate(20 273.4 279.4)"/>
<path d="M206.8,267 L206.8,270.4 Q207.4,272.8 211.2,273 Q215,272.8 215.6,270.4 L215.6,267 Z" fill="#fff" stroke="#141414" stroke-width="1.1" stroke-linejoin="round" stroke-linecap="round"/>
<polygon points="204.6,261 217,261 217,266.4 214.6,268.6 207.4,268.6 204.6,266.4" fill="#fff" stroke="#141414" stroke-width="1.3" stroke-linejoin="round"/>
<line x1="208.2" y1="261" x2="208.2" y2="268.4" stroke="#141414" stroke-width="0.9"/>
<line x1="213.8" y1="261" x2="213.8" y2="268.4" stroke="#141414" stroke-width="0.9"/>
<line x1="205" y1="264.2" x2="216.6" y2="264.2" stroke="#444" stroke-width="0.8"/>
<polygon points="205.4,255 217.8,255 217.2,261 205,261" fill="#fff" stroke="#141414" stroke-width="1.2" stroke-linejoin="round"/>
<line x1="205.4" y1="258.2" x2="217.6" y2="258.2" stroke="#141414" stroke-width="0.9"/>
<path d="M201.6,249.6 L201.6,252.6 Q203.6,256.8 211.5,257 Q219.4,256.8 221.4,252.6 L221.4,249.6 Z" fill="#fff" stroke="#141414" stroke-width="1.3" stroke-linejoin="round" stroke-linecap="round"/>
<ellipse cx="211.5" cy="249.4" rx="9.9" ry="3.5" fill="#fff" stroke="#141414" stroke-width="1.3"/>
<ellipse cx="211.5" cy="249" rx="8" ry="2.7" fill="#fff" stroke="#141414" stroke-width="1.0"/>
<ellipse cx="211.5" cy="248.6" rx="6.2" ry="2" fill="#fff" stroke="#141414" stroke-width="0.9"/>
<path d="M208.3,244 L208,250.2 Q211.6,251.4 215.4,250.2 L215.1,244 Z" fill="#fff" stroke="#141414" stroke-width="1" stroke-linejoin="round" stroke-linecap="round"/>
<ellipse cx="211.5" cy="238" rx="9.1" ry="9.1" fill="#fff" stroke="#141414" stroke-width="1.3"/>
<ellipse cx="211.6" cy="231" rx="3.1" ry="1.5" fill="#141414" stroke="#141414" stroke-width="1"/>
<polygon points="251.2,193.3 264.4,200.6 261.8,205.6 249.4,199.4" fill="#fff" stroke="#141414" stroke-width="1.2" stroke-linejoin="round"/>
<polygon points="242,188.4 251.6,193 249.6,199.8 240.4,195.4" fill="#fff" stroke="#141414" stroke-width="1.6" stroke-linejoin="round"/>
<line x1="244.6" y1="189.8" x2="243" y2="196.6" stroke="#141414" stroke-width="1.2"/>
<line x1="248.8" y1="191.8" x2="247.2" y2="198.6" stroke="#141414" stroke-width="1.2"/>
<line x1="251.6" y1="193" x2="253" y2="191.6" stroke="#141414" stroke-width="1.6"/>
<line x1="249.6" y1="199.8" x2="248.6" y2="201.2" stroke="#141414" stroke-width="1.4"/>
<path d="M264.6,200.2 L275.6,205 Q278,208.6 276,212.6 L273.6,213.6 L263,208.6 Q261.4,204 264.6,200.2 Z" fill="#fff" stroke="#141414" stroke-width="1.4" stroke-linejoin="round" stroke-linecap="round"/>
<ellipse cx="266" cy="204.8" rx="2.4" ry="3.9" fill="#fff" stroke="#141414" stroke-width="1.2" transform="rotate(18 266 204.8)"/>
<ellipse cx="274.8" cy="209.2" rx="2.3" ry="4" fill="#fff" stroke="#141414" stroke-width="1.2" transform="rotate(18 274.8 209.2)"/>
<path d="M267.6,202.6 Q270.4,205.4 269,209.6" fill="none" stroke="#141414" stroke-width="1" stroke-linejoin="round" stroke-linecap="round"/>
<line x1="261.6" y1="203" x2="263" y2="206.6" stroke="#141414" stroke-width="2.2"/>
<ellipse cx="239.4" cy="196.2" rx="2.2" ry="3.5" fill="none" stroke="#141414" stroke-width="1.9" transform="rotate(20 239.4 196.2)"/>
<path d="M237.4,187.6 L239.8,192.6 M240.2,186.4 L238,193.8 M236.4,190.2 L242.2,190.8" fill="none" stroke="#141414" stroke-width="1.7" stroke-linejoin="round" stroke-linecap="round"/>
<path d="M300.4,272 Q301,257.6 306.4,257.4 Q311.6,258.4 311,269.6" fill="none" stroke="#141414" stroke-width="1.1" stroke-linejoin="round" stroke-linecap="round"/>
<path d="M302.6,271 Q303,260.4 306.2,260.2 Q309,261 308.6,268.6" fill="none" stroke="#141414" stroke-width="1.1" stroke-linejoin="round" stroke-linecap="round"/>
<polygon points="296.4,273.4 300,270.6 301.4,276 298,278.4 296.2,277.6" fill="#141414" stroke="#141414" stroke-width="1" stroke-linejoin="round"/>
<ellipse cx="303.5" cy="273.8" rx="2.1" ry="2.5" fill="#fff" stroke="#141414" stroke-width="1.5"/>
<ellipse cx="310" cy="270.2" rx="2.1" ry="2.5" fill="#fff" stroke="#141414" stroke-width="1.5"/>
<ellipse cx="306.6" cy="269" rx="1.6" ry="2" fill="#fff" stroke="#141414" stroke-width="1.3"/>
<line x1="301" y1="272.6" x2="305" y2="278" stroke="#141414" stroke-width="1.6"/>
<line x1="301.6" y1="268.4" x2="305.6" y2="266" stroke="#141414" stroke-width="1.4"/>
<path d="M331.1,289.5 Q331.7,275.1 337.1,274.9 Q342.3,275.9 341.7,287.1" fill="none" stroke="#141414" stroke-width="1.1" stroke-linejoin="round" stroke-linecap="round"/>
<path d="M333.3,288.5 Q333.7,277.9 336.9,277.7 Q339.7,278.5 339.3,286.1" fill="none" stroke="#141414" stroke-width="1.1" stroke-linejoin="round" stroke-linecap="round"/>
<polygon points="327.1,290.9 330.7,288.1 332.1,293.5 328.7,295.9 326.9,295.1" fill="#141414" stroke="#141414" stroke-width="1" stroke-linejoin="round"/>
<ellipse cx="334.2" cy="291.3" rx="2.1" ry="2.5" fill="#fff" stroke="#141414" stroke-width="1.5"/>
<ellipse cx="340.7" cy="287.7" rx="2.1" ry="2.5" fill="#fff" stroke="#141414" stroke-width="1.5"/>
<ellipse cx="337.3" cy="286.5" rx="1.6" ry="2" fill="#fff" stroke="#141414" stroke-width="1.3"/>
<line x1="331.7" y1="290.1" x2="335.7" y2="295.5" stroke="#141414" stroke-width="1.6"/>
<line x1="332.3" y1="285.9" x2="336.3" y2="283.5" stroke="#141414" stroke-width="1.4"/>
<ellipse cx="398.6" cy="121.6" rx="28.2" ry="20.2" fill="none" stroke="#141414" stroke-width="1.0" transform="rotate(42 398.6 121.6)"/>
<ellipse cx="398.6" cy="121.6" rx="25.8" ry="17.8" fill="none" stroke="#141414" stroke-width="1.3" transform="rotate(42 398.6 121.6)"/>
<ellipse cx="398.6" cy="121.6" rx="23.2" ry="15.4" fill="none" stroke="#141414" stroke-width="1.3" transform="rotate(42 398.6 121.6)"/>
<ellipse cx="398.6" cy="121.6" rx="20.8" ry="13.2" fill="none" stroke="#141414" stroke-width="1.0" transform="rotate(42 398.6 121.6)"/>
<path d="M418.6,99 L421.5,98.4 L423.8,126 Q424,131 421.4,134.6 L419,137.4 L418.4,133 Q420.8,130 420.6,125 Z" fill="#fff" stroke="#141414" stroke-width="1" stroke-linejoin="round" stroke-linecap="round"/>
<line x1="420" y1="99" x2="422.2" y2="127" stroke="#141414" stroke-width="0.7"/>
<polygon points="412.3,134.6 414.9,135 416.6,158 413.5,158.6" fill="#fff" stroke="#141414" stroke-width="1" stroke-linejoin="round"/>
<line x1="413.6" y1="135" x2="415" y2="158.2" stroke="#141414" stroke-width="0.7"/>
<line x1="260.6" y1="17.6" x2="237.4" y2="36.8" stroke="#141414" stroke-width="1.1"/>
<polygon points="237.4,36.8 241.76,35.01 239.97,32.85" fill="#141414" stroke="#141414" stroke-width="0.5" stroke-linejoin="round"/>
<circle cx="268.3" cy="9.9" r="10.3" fill="#fff" stroke="#141414" stroke-width="1"/>
<text x="265.75" y="13.6" textLength="5.1" lengthAdjust="spacingAndGlyphs" class="t">3</text>
<line x1="316.2" y1="130.4" x2="280.4" y2="159.1" stroke="#141414" stroke-width="1.1"/>
<polygon points="280.4,159.1 284.79,157.38 283.04,155.19" fill="#141414" stroke="#141414" stroke-width="0.5" stroke-linejoin="round"/>
<circle cx="324.1" cy="122.9" r="10.3" fill="#fff" stroke="#141414" stroke-width="1"/>
<text x="321.55" y="126.6" textLength="5.1" lengthAdjust="spacingAndGlyphs" class="t">1</text>
<line x1="441.8" y1="73.2" x2="422" y2="98.6" stroke="#141414" stroke-width="1.1"/>
<polygon points="422,98.6 425.87,95.91 423.66,94.19" fill="#141414" stroke="#141414" stroke-width="0.5" stroke-linejoin="round"/>
<circle cx="448.9" cy="65.4" r="10.3" fill="#fff" stroke="#141414" stroke-width="1"/>
<text x="443.95" y="69.1" textLength="9.9" lengthAdjust="spacingAndGlyphs" class="t">19</text>
<line x1="555" y1="191.2" x2="543.6" y2="219.2" stroke="#141414" stroke-width="1.1"/>
<polygon points="543.6,219.2 546.59,215.56 544,214.5" fill="#141414" stroke="#141414" stroke-width="0.5" stroke-linejoin="round"/>
<circle cx="558.8" cy="181.5" r="10.3" fill="#fff" stroke="#141414" stroke-width="1"/>
<text x="556.25" y="185.2" textLength="5.1" lengthAdjust="spacingAndGlyphs" class="t">2</text>
<line x1="599" y1="227" x2="578.8" y2="247.8" stroke="#141414" stroke-width="1.1"/>
<polygon points="578.8,247.8 582.94,245.55 580.93,243.6" fill="#141414" stroke="#141414" stroke-width="0.5" stroke-linejoin="round"/>
<circle cx="606.3" cy="219.3" r="10.3" fill="#fff" stroke="#141414" stroke-width="1"/>
<text x="603.75" y="223" textLength="5.1" lengthAdjust="spacingAndGlyphs" class="t">6</text>
<circle cx="627.1" cy="219.3" r="10.3" fill="#fff" stroke="#141414" stroke-width="1"/>
<text x="624.55" y="223" textLength="5.1" lengthAdjust="spacingAndGlyphs" class="t">7</text>
<line x1="160.6" y1="171.6" x2="186.4" y2="165.7" stroke="#141414" stroke-width="1.1"/>
<polygon points="186.4,165.7 181.7,165.34 182.33,168.07" fill="#141414" stroke="#141414" stroke-width="0.5" stroke-linejoin="round"/>
<circle cx="150.5" cy="174.3" r="10.3" fill="#fff" stroke="#141414" stroke-width="1"/>
<text x="145.55" y="178" textLength="9.9" lengthAdjust="spacingAndGlyphs" class="t">18</text>
<line x1="182" y1="209.8" x2="236.9" y2="191.2" stroke="#141414" stroke-width="1.1"/>
<polygon points="236.9,191.2 232.19,191.32 233.09,193.97" fill="#141414" stroke="#141414" stroke-width="0.5" stroke-linejoin="round"/>
<circle cx="172" cy="213.2" r="10.3" fill="#fff" stroke="#141414" stroke-width="1"/>
<text x="167.05" y="216.9" textLength="9.9" lengthAdjust="spacingAndGlyphs" class="t">15</text>
<line x1="166.4" y1="263.8" x2="201.6" y2="251.4" stroke="#141414" stroke-width="1.1"/>
<polygon points="201.6,251.4 196.89,251.57 197.82,254.22" fill="#141414" stroke="#141414" stroke-width="0.5" stroke-linejoin="round"/>
<circle cx="156.6" cy="267.2" r="10.3" fill="#fff" stroke="#141414" stroke-width="1"/>
<text x="151.65" y="270.9" textLength="9.9" lengthAdjust="spacingAndGlyphs" class="t">14</text>
<line x1="178.8" y1="327.2" x2="196.9" y2="309.2" stroke="#141414" stroke-width="1.1"/>
<polygon points="196.9,309.2 192.72,311.38 194.7,313.37" fill="#141414" stroke="#141414" stroke-width="0.5" stroke-linejoin="round"/>
<circle cx="171.8" cy="335.6" r="10.3" fill="#fff" stroke="#141414" stroke-width="1"/>
<text x="166.85" y="339.3" textLength="9.9" lengthAdjust="spacingAndGlyphs" class="t">11</text>
<line x1="202" y1="364.2" x2="212.2" y2="336.6" stroke="#141414" stroke-width="1.1"/>
<polygon points="212.2,336.6 209.33,340.34 211.95,341.31" fill="#141414" stroke="#141414" stroke-width="0.5" stroke-linejoin="round"/>
<circle cx="198.6" cy="374" r="10.3" fill="#fff" stroke="#141414" stroke-width="1"/>
<text x="193.65" y="377.7" textLength="9.9" lengthAdjust="spacingAndGlyphs" class="t">17</text>
<line x1="297.8" y1="334" x2="303.1" y2="279.4" stroke="#141414" stroke-width="1.1"/>
<polygon points="303.1,279.4 301.27,283.74 304.06,284.01" fill="#141414" stroke="#141414" stroke-width="0.5" stroke-linejoin="round"/>
<circle cx="296.4" cy="344.3" r="10.3" fill="#fff" stroke="#141414" stroke-width="1"/>
<text x="291.45" y="348" textLength="9.9" lengthAdjust="spacingAndGlyphs" class="t">16</text>
<line x1="338.2" y1="369.2" x2="350.6" y2="342.6" stroke="#141414" stroke-width="1.1"/>
<polygon points="350.6,342.6 347.43,346.09 349.97,347.27" fill="#141414" stroke="#141414" stroke-width="0.5" stroke-linejoin="round"/>
<circle cx="334.4" cy="379.1" r="10.3" fill="#fff" stroke="#141414" stroke-width="1"/>
<text x="329.45" y="382.8" textLength="9.9" lengthAdjust="spacingAndGlyphs" class="t">13</text>
<line x1="376.8" y1="379.6" x2="384.5" y2="348.3" stroke="#141414" stroke-width="1.1"/>
<polygon points="384.5,348.3 382.07,352.34 384.78,353" fill="#141414" stroke="#141414" stroke-width="0.5" stroke-linejoin="round"/>
<circle cx="374" cy="389.5" r="10.3" fill="#fff" stroke="#141414" stroke-width="1"/>
<text x="369.05" y="393.2" textLength="9.9" lengthAdjust="spacingAndGlyphs" class="t">12</text>
<line x1="424.2" y1="360.2" x2="410.4" y2="335.5" stroke="#141414" stroke-width="1.1"/>
<polygon points="410.4,335.5 411.37,340.11 413.82,338.75" fill="#141414" stroke="#141414" stroke-width="0.5" stroke-linejoin="round"/>
<circle cx="429" cy="369.8" r="10.3" fill="#fff" stroke="#141414" stroke-width="1"/>
<text x="426.45" y="373.5" textLength="5.1" lengthAdjust="spacingAndGlyphs" class="t">4</text>
<circle cx="449.4" cy="369.8" r="10.3" fill="#fff" stroke="#141414" stroke-width="1"/>
<text x="446.85" y="373.5" textLength="5.1" lengthAdjust="spacingAndGlyphs" class="t">5</text>
<line x1="510.4" y1="359.4" x2="503.9" y2="339" stroke="#141414" stroke-width="1.1"/>
<polygon points="503.9,339 503.93,343.71 506.6,342.86" fill="#141414" stroke="#141414" stroke-width="0.5" stroke-linejoin="round"/>
<circle cx="513.4" cy="369.5" r="10.3" fill="#fff" stroke="#141414" stroke-width="1"/>
<text x="510.85" y="373.2" textLength="5.1" lengthAdjust="spacingAndGlyphs" class="t">8</text>
<circle cx="534.1" cy="369.5" r="10.3" fill="#fff" stroke="#141414" stroke-width="1"/>
<text x="529.15" y="373.2" textLength="9.9" lengthAdjust="spacingAndGlyphs" class="t">10</text>
<circle cx="555.1" cy="369.5" r="10.3" fill="#fff" stroke="#141414" stroke-width="1"/>
<text x="550.15" y="373.2" textLength="9.9" lengthAdjust="spacingAndGlyphs" class="t">10</text>
<circle cx="575.1" cy="369.5" r="10.3" fill="#fff" stroke="#141414" stroke-width="1"/>
<text x="572.55" y="373.2" textLength="5.1" lengthAdjust="spacingAndGlyphs" class="t">9</text>
</svg>
</body></html>
